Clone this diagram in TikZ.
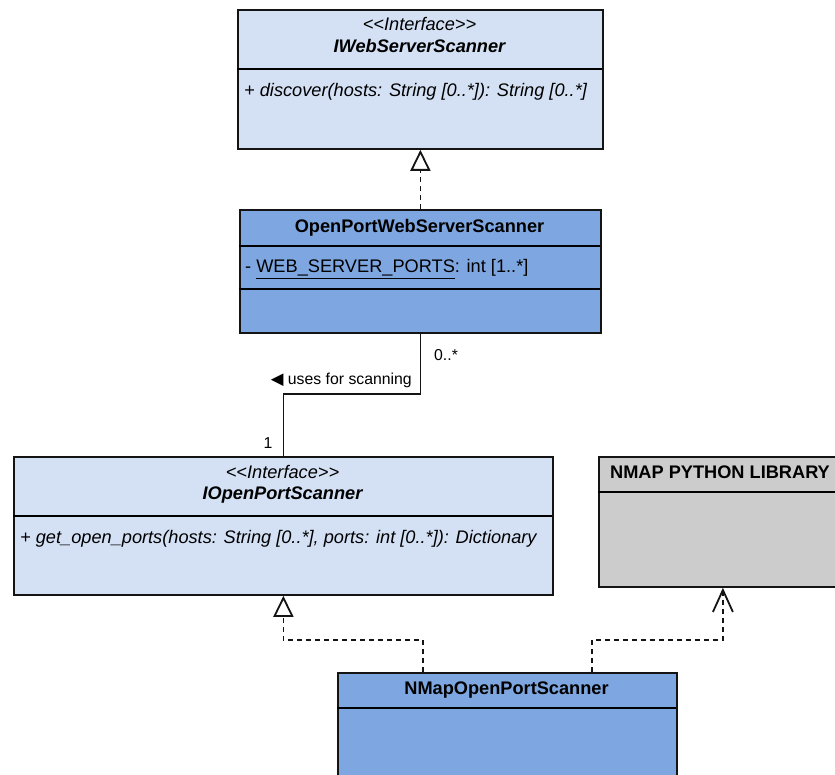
\documentclass[tikz,border=0pt]{standalone}
\usepackage{fontspec}
\usetikzlibrary{arrows.meta}
\newfontfamily\umlfont{Liberation Sans}
\newfontfamily\symfont{DejaVu Sans}
\definecolor{ifacefill}{HTML}{D4E1F5}
\definecolor{classfill}{HTML}{7EA6E0}
\definecolor{libfill}{HTML}{CCCCCC}
\definecolor{edge}{HTML}{141414}
\tikzset{
  box/.style={draw=edge, line width=1.8pt, rectangle, inner sep=0pt, anchor=north west},
  iface/.style={box, fill=ifacefill},
  cls/.style={box, fill=classfill},
  lib/.style={box, fill=libfill},
  divider/.style={draw=black, line width=2pt},
  boxtext/.style={inner sep=0pt, font=\umlfont\fontsize{18.2}{21}\selectfont, text=black},
  lbltext/.style={inner sep=0pt, font=\umlfont\fontsize{15.8}{18}\selectfont, text=black},
  conn/.style={draw=edge, line width=1.8pt, line join=miter},
  realize/.style={conn, dash pattern=on 5pt off 4pt, -{Triangle[open, width=20pt, length=21pt, line width=1.8pt]}},
  depend/.style={conn, dash pattern=on 5pt off 4pt, -{Straight Barb[width=20pt, length=22pt, line width=1.8pt]}},
  assoc/.style={conn},
}
\begin{document}
\begin{tikzpicture}[x=1pt, y=-1pt]
\useasboundingbox (0,0) rectangle (835,775);
\clip (0,0) rectangle (835,775);

% interface IWebServerScanner
\node[iface, minimum width=365pt, minimum height=139pt] (iws) at (237,9) {};
\draw[divider] (237,69) -- (602,69);
\node[boxtext, anchor=base] (iwsst) at (419.5,31) {\itshape <<Interface>>};
\node[boxtext, anchor=base] (iwsname) at (419.5,53) {\bfseries\itshape IWebServerScanner};
\node[boxtext, anchor=base west] (iwsop) at (244,97) {\itshape + discover(hosts: String [0..*]): String [0..*]};

% class OpenPortWebServerScanner
\node[cls, minimum width=361pt, minimum height=123pt] (ows) at (239,209) {};
\draw[divider] (239,246) -- (600,246);
\draw[divider] (239,289) -- (600,289);
\node[boxtext, anchor=base] (owsname) at (419.5,233) {\bfseries OpenPortWebServerScanner};
\node[boxtext, anchor=base west] (owsattr) at (245,273) {- \underline{WEB\_SERVER\_PORTS}: int [1..*]};

% interface IOpenPortScanner
\node[iface, minimum width=539pt, minimum height=138pt] (iop) at (13,456) {};
\draw[divider] (13,516) -- (552,516);
\node[boxtext, anchor=base] (iopst) at (282.5,478) {\itshape <<Interface>>};
\node[boxtext, anchor=base] (iopname) at (282.5,499) {\bfseries\itshape IOpenPortScanner};
\node[boxtext, anchor=base west] (iopop) at (20,543) {\itshape + get\_open\_ports(hosts: String [0..*], ports: int [0..*]): Dictionary};

% external library
\node[lib, minimum width=248pt, minimum height=130pt] (nlib) at (598,456) {};
\draw[divider] (598,492) -- (846,492);
\node[boxtext, anchor=base] (nlibname) at (720,478) {\bfseries NMAP PYTHON LIBRARY};

% class NMapOpenPortScanner
\node[cls, minimum width=339pt, minimum height=130pt] (nm) at (337,672) {};
\draw[divider] (337,708) -- (676,708);
\node[boxtext, anchor=base] (nmname) at (506.5,694) {\bfseries NMapOpenPortScanner};

% realization: OpenPortWebServerScanner -> IWebServerScanner
\draw[realize] (ows.north) -- (iws.south);

% association between OpenPortWebServerScanner and IOpenPortScanner
\draw[assoc] (ows.south) -- (ows.south |- 0,394) -| (iop.north);
\node[lbltext, anchor=base west] (mfrom) at (434,361) {0..*};
\node[lbltext, anchor=base east] (assoclbl) at (412,384.5) {{\symfont\fontsize{16.5}{18}\selectfont ◀} uses for scanning};
\node[lbltext, anchor=base east] (mto) at (272.5,448.5) {1};

% realization: NMapOpenPortScanner -> IOpenPortScanner
\draw[realize] ([xshift=-84.5pt]nm.north) -- ++(0,-32) -| (iop.south);

% dependency: NMapOpenPortScanner -> NMAP library
\draw[depend] ([xshift=84.5pt]nm.north) -- ++(0,-32) -| (nlib.south);
\end{tikzpicture}
\end{document}
